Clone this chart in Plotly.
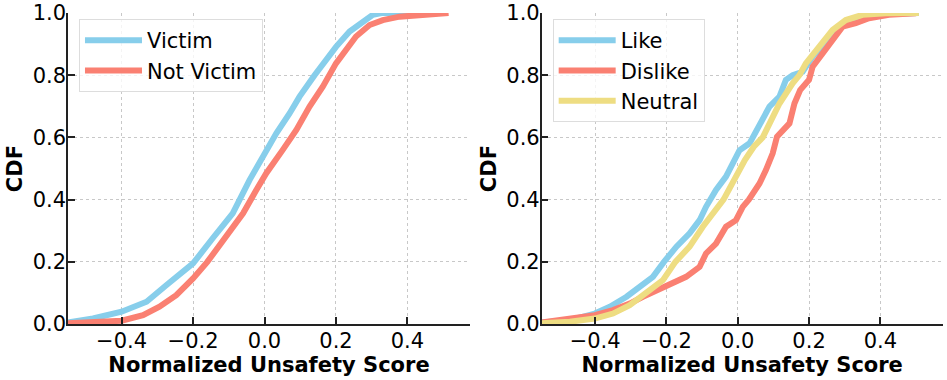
import plotly.graph_objects as go

# --- data (score, cumulative fraction) ---
victim_x = [-0.55, -0.48, -0.40, -0.33, -0.275, -0.20, -0.145, -0.089, -0.042, -0.005,
            0.033, 0.07, 0.098, 0.14, 0.163, 0.20, 0.238, 0.275, 0.303, 0.331, 0.40]
victim_cdf = [0.005, 0.018, 0.04, 0.072, 0.125, 0.195, 0.276, 0.356, 0.463, 0.538,
              0.613, 0.677, 0.731, 0.80, 0.838, 0.891, 0.94, 0.972, 0.994, 1.0, 1.0]

not_victim_x = [-0.55, -0.40, -0.34, -0.294, -0.247, -0.20, -0.16, -0.107, -0.06, -0.023,
                0.005, 0.051, 0.089, 0.126, 0.163, 0.20, 0.228, 0.256, 0.294, 0.331,
                0.378, 0.434, 0.515]
not_victim_cdf = [0.003, 0.011, 0.029, 0.056, 0.093, 0.147, 0.2, 0.281, 0.356, 0.431,
                  0.485, 0.56, 0.624, 0.699, 0.763, 0.838, 0.881, 0.924, 0.961, 0.977,
                  0.988, 0.994, 1.0]

like_x = [-0.55, -0.471, -0.401, -0.359, -0.312, -0.275, -0.238, -0.207, -0.172, -0.135,
          -0.107, -0.089, -0.061, -0.033, -0.012, 0.005, 0.033, 0.061, 0.089, 0.117,
          0.135, 0.154, 0.182, 0.21, 0.238, 0.275, 0.312, 0.368, 0.434, 0.508]
like_cdf = [0.005, 0.013, 0.034, 0.056, 0.088, 0.12, 0.152, 0.2, 0.249, 0.292,
            0.334, 0.377, 0.431, 0.474, 0.527, 0.559, 0.581, 0.645, 0.699, 0.731,
            0.785, 0.80, 0.811, 0.86, 0.892, 0.945, 0.977, 0.994, 0.999, 1.0]

dislike_x = [-0.55, -0.471, -0.401, -0.35, -0.303, -0.266, -0.228, -0.191, -0.145, -0.107,
             -0.089, -0.061, -0.033, -0.005, 0.014, 0.031, 0.061, 0.079, 0.098, 0.11,
             0.145, 0.159, 0.175, 0.20, 0.21, 0.238, 0.266, 0.294, 0.331, 0.368,
             0.424, 0.50]
dislike_cdf = [0.005, 0.018, 0.029, 0.045, 0.066, 0.088, 0.109, 0.131, 0.152, 0.184,
               0.227, 0.259, 0.313, 0.334, 0.377, 0.40, 0.452, 0.495, 0.549, 0.602,
               0.645, 0.709, 0.752, 0.785, 0.827, 0.87, 0.913, 0.956, 0.967, 0.983,
               0.994, 0.999]

neutral_x = [-0.55, -0.471, -0.401, -0.35, -0.303, -0.256, -0.21, -0.175, -0.135, -0.098,
             -0.04, 0.02, 0.045, 0.07, 0.117, 0.154, 0.173, 0.191, 0.228, 0.266,
             0.303, 0.35, 0.415, 0.508]
neutral_cdf = [0.003, 0.008, 0.018, 0.034, 0.061, 0.099, 0.141, 0.2, 0.249, 0.313,
               0.40, 0.527, 0.57, 0.60, 0.709, 0.774, 0.80, 0.838, 0.892, 0.945,
               0.977, 0.994, 0.999, 1.0]

BLUE = '#87CEEB'
RED = '#FA8072'
YELLOW = '#EEDD82'
FONT = 'DejaVu Sans'

fig = go.Figure()

# left panel
fig.add_trace(go.Scatter(x=victim_x, y=victim_cdf, name='Victim', mode='lines',
                         line=dict(color=BLUE, width=6), xaxis='x', yaxis='y',
                         legend='legend', legendgroup='a'))
fig.add_trace(go.Scatter(x=not_victim_x, y=not_victim_cdf, name='Not Victim', mode='lines',
                         line=dict(color=RED, width=6), xaxis='x', yaxis='y',
                         legend='legend', legendgroup='b'))

# right panel
fig.add_trace(go.Scatter(x=like_x, y=like_cdf, name='Like', mode='lines',
                         line=dict(color=BLUE, width=6), xaxis='x2', yaxis='y2',
                         legend='legend2', legendgroup='c'))
fig.add_trace(go.Scatter(x=dislike_x, y=dislike_cdf, name='Dislike', mode='lines',
                         line=dict(color=RED, width=6), xaxis='x2', yaxis='y2',
                         legend='legend2', legendgroup='d'))
fig.add_trace(go.Scatter(x=neutral_x, y=neutral_cdf, name='Neutral', mode='lines',
                         line=dict(color=YELLOW, width=6), xaxis='x2', yaxis='y2',
                         legend='legend2', legendgroup='e'))

xaxis_style = dict(range=[-0.55, 0.575], tickvals=[-0.4, -0.2, 0, 0.2, 0.4], tickformat='.1f',
                   ticks='inside', ticklen=7, tickwidth=1.5, tickcolor='#222',
                   showline=True, linecolor='#222', linewidth=1.5, zeroline=False,
                   showgrid=True, gridcolor='#c8c8c8', griddash='dot', gridwidth=1,
                   automargin=False, ticklabelstandoff=-3,
                   tickfont=dict(family=FONT, size=21, color='black'),
                   title=dict(text='Normalized Unsafety Score', standoff=2,
                              font=dict(family=FONT, size=21, color='black', weight='bold')))
yaxis_style = dict(range=[0, 1.0], tickvals=[0, 0.2, 0.4, 0.6, 0.8, 1.0], tickformat='.1f',
                   ticks='inside', ticklen=7, tickwidth=1.5, tickcolor='#222',
                   showline=True, linecolor='#222', linewidth=1.5, zeroline=False,
                   showgrid=True, gridcolor='#c8c8c8', griddash='dot', gridwidth=1,
                   automargin=False, ticklabelstandoff=-4,
                   tickfont=dict(family=FONT, size=21, color='black'),
                   title=dict(text='CDF', standoff=4,
                              font=dict(family=FONT, size=21, color='black', weight='bold')))

legend_style = dict(bgcolor='rgba(255,255,255,0.8)', bordercolor='#dddddd', borderwidth=1,
                    font=dict(family=FONT, size=21, color='black'), tracegroupgap=0,
                    itemwidth=57, xanchor='left', yanchor='top', y=0.95)

fig.update_layout(
    width=947, height=380,
    margin=dict(l=0, r=0, t=0, b=0, autoexpand=False),
    plot_bgcolor='white', paper_bgcolor='white',
    xaxis=dict(domain=[0.0718, 0.4963], anchor='y', **xaxis_style),
    yaxis=dict(domain=[0.147, 0.966], anchor='x', **yaxis_style),
    xaxis2=dict(domain=[0.572, 0.9955], anchor='y2', **xaxis_style),
    yaxis2=dict(domain=[0.147, 0.966], anchor='x2', **yaxis_style),
    legend=dict(x=0.0834, **legend_style),
    legend2=dict(x=0.5836, **legend_style),
)

# drop the default page margin so the figure fills the window
fig.write_html("out.html", config={'displayModeBar': False},
               post_script="document.body.style.margin = '0';")
